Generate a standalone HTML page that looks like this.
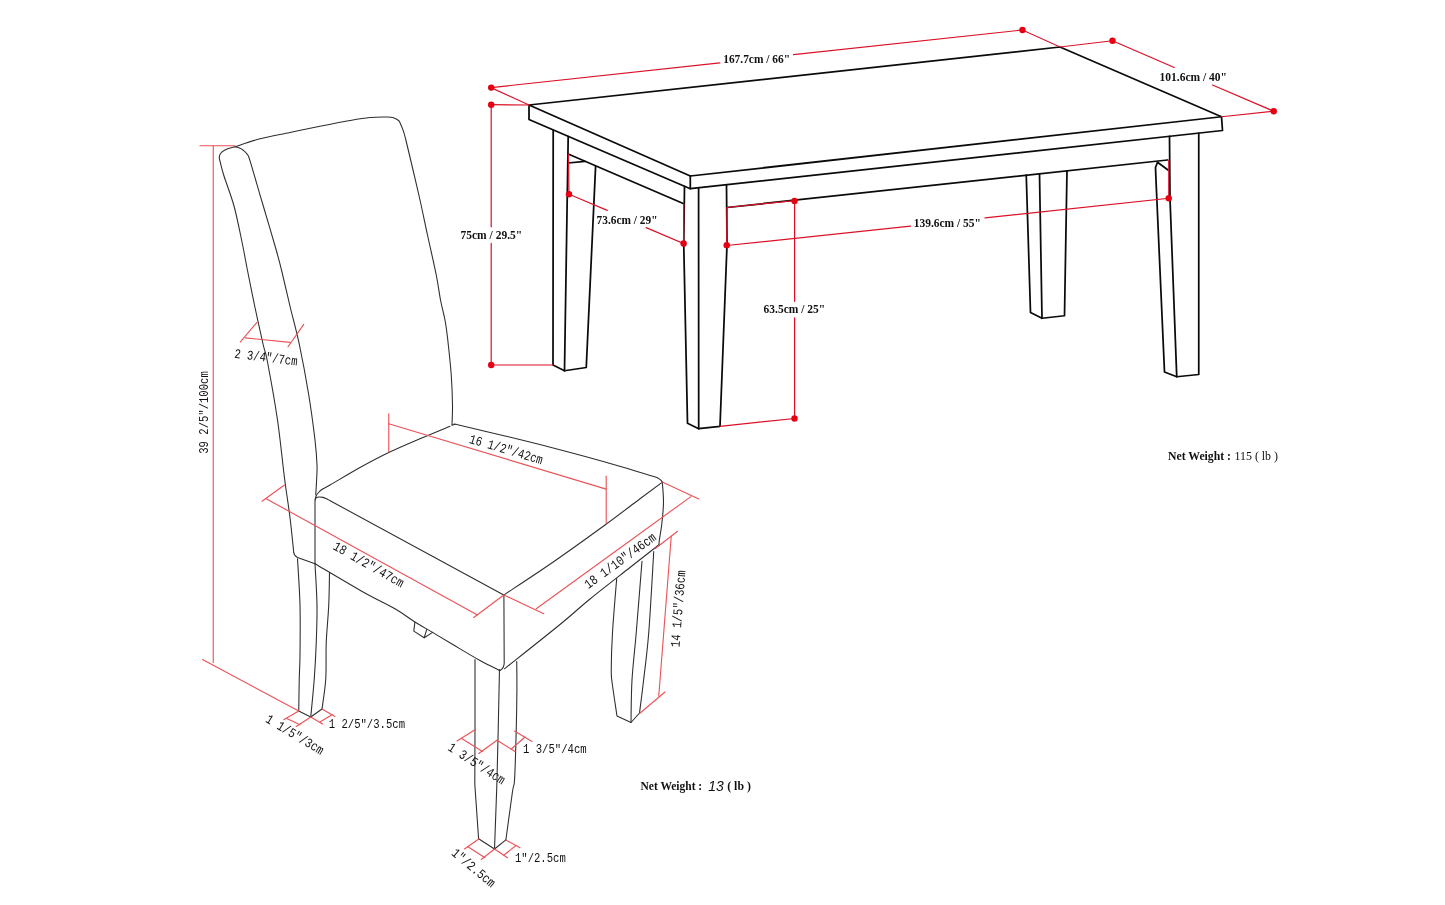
<!DOCTYPE html>
<html>
<head>
<meta charset="utf-8">
<title>Dining set dimensions</title>
<style>
  html, body { margin: 0; padding: 0; background: #ffffff; }
  body { width: 1445px; height: 905px; overflow: hidden; font-family: "Liberation Serif", serif; }
  svg { display: block; }
  .tb { fill: none; stroke: #0a0a0a; stroke-width: 1.75; stroke-linecap: round; stroke-linejoin: round; }
  .tr { fill: none; stroke: #dc1128; stroke-width: 1.2; stroke-linecap: round; }
  .td { fill: #e60012; stroke: none; }
  .cb { fill: none; stroke: #2e2e2e; stroke-width: 1.08; stroke-linecap: round; stroke-linejoin: round; }
  .cr { fill: none; stroke: #eb5257; stroke-width: 1.12; stroke-linecap: round; }
  text { filter: grayscale(1); }
  .tt { font-family: "Liberation Serif", serif; font-weight: bold; font-size: 12.6px; fill: #111; }
  .nw { font-family: "Liberation Serif", serif; font-size: 12.8px; fill: #111; }
  .ct { font-family: "Liberation Mono", monospace; font-size: 13.4px; fill: #111; }
</style>
</head>
<body>
<svg width="1445" height="905" viewBox="0 0 1445 905">
<rect x="0" y="0" width="1445" height="905" fill="#ffffff"/>

<!-- ================= TABLE : black outline ================= -->
<g class="tb" id="table">
  <!-- top surface -->
  <path d="M529,105 L1060,47 L1221.5,116.75 L690.3,176 Z"/>
  <!-- thickness -->
  <path d="M529,105 L529,119.5 L690.3,188.7 L1222.5,130.5 L1221.5,116.75"/>
  <path d="M690.3,176 L690.3,188.7"/>
  <!-- back-left leg -->
  <path d="M553.2,130 L553,365 L564.5,370.75 L586.25,367.5 L595.6,166.4"/>
  <path d="M568.2,136.5 L564.5,370.75"/>
  <path d="M568.2,163 L584.8,161.4"/>
  <!-- left apron -->
  <path d="M568.2,154 L683.8,203.8"/>
  <!-- front-left leg -->
  <path d="M684.5,186.4 L683.75,244.5 L687.5,423.3 L698.7,428.7 L720,426.3 L727,245 L726.5,185"/>
  <path d="M698.6,188.5 L698.7,428.7"/>
  <!-- front apron bottom edge -->
  <path d="M727,207.5 L1167.5,160"/>
  <!-- back-right leg -->
  <path d="M1026.25,175.2 L1030.5,312.5 L1042,318.25 L1064.5,315.75 L1067,170.8"/>
  <path d="M1039.5,173.8 L1042,318.25"/>
  <!-- front-right leg -->
  <path d="M1198.75,133.2 L1198.75,374.5 L1176.75,376.75 L1164.5,372 L1156,180 L1155.5,167.5 L1157.5,162.2 L1168,170"/>
  <path d="M1169.5,136.3 L1170,198.5 L1176.75,376.75"/>
</g>

<!-- ================= TABLE : red dimension lines ================= -->
<g class="tr" id="table-red">
  <path d="M491,87.6 L529,105"/>
  <path d="M491,104.7 L529,105"/>
  <path d="M491.2,104.7 L491.2,226.8"/>
  <path d="M491.2,243.3 L491.2,365 L553,365"/>
  <path d="M491,87.6 L719.8,62.9"/>
  <path d="M793.5,54.6 L1022.5,30 L1060,47 L1112.5,40.75"/>
  <path d="M1112.5,40.75 L1174.25,67.5"/>
  <path d="M1212.5,85 L1273.75,111.25 L1221.5,116.75"/>
  <path d="M568.4,154 L569,194.2 L607.2,210.4"/>
  <path d="M646.2,227.6 L683.6,243.5 L683.8,203.8"/>
  <path d="M726.7,245 L727,207.5 L794.6,200.6 L794.6,301.3"/>
  <path d="M794.6,317.8 L794.6,418.5 L720,426.3"/>
  <path d="M726.7,245.5 L910.5,226.2"/>
  <path d="M985,217.9 L1168.75,198.25 L1168.75,160"/>
</g>
<g class="td" id="table-dots">
  <circle cx="491.2" cy="87.6" r="3.2"/>
  <circle cx="491.2" cy="104.7" r="3.2"/>
  <circle cx="491.2" cy="365" r="3.2"/>
  <circle cx="569" cy="194.2" r="3.2"/>
  <circle cx="683.6" cy="243.5" r="3.2"/>
  <circle cx="726.7" cy="245.3" r="3.2"/>
  <circle cx="794.5" cy="201" r="3.2"/>
  <circle cx="794.5" cy="418.5" r="3.2"/>
  <circle cx="1022.5" cy="30" r="3.2"/>
  <circle cx="1112.5" cy="40.75" r="3.2"/>
  <circle cx="1273.75" cy="111.25" r="3.2"/>
  <circle cx="1168.75" cy="198.25" r="3.2"/>
</g>

<!-- ================= TABLE : labels ================= -->
<g class="tt" id="table-text" lengthAdjust="spacingAndGlyphs">
  <text x="723.2" y="63.2" textLength="66.9" lengthAdjust="spacingAndGlyphs">167.7cm / 66"</text>
  <text x="1159.5" y="80.5" textLength="67.5" lengthAdjust="spacingAndGlyphs">101.6cm / 40"</text>
  <text x="460.5" y="238.9" textLength="61.7" lengthAdjust="spacingAndGlyphs">75cm / 29.5"</text>
  <text x="596.5" y="223.5" textLength="61" lengthAdjust="spacingAndGlyphs">73.6cm / 29"</text>
  <text x="763.6" y="313.4" textLength="61.5" lengthAdjust="spacingAndGlyphs">63.5cm / 25"</text>
  <text x="913.7" y="226.6" textLength="67.3" lengthAdjust="spacingAndGlyphs">139.6cm / 55"</text>
</g>
<text class="nw" x="1168" y="459.8" textLength="63" lengthAdjust="spacingAndGlyphs" font-weight="bold">Net Weight :</text>
<text class="nw" x="1234.5" y="459.8" textLength="43.5" lengthAdjust="spacingAndGlyphs">115 ( lb )</text>

<g class="cb" id="chair">
  <path d="M315,563.75 L297.5,557.5 Q294.3,556 293.75,552.5"/>
  <path d="M293.75,552.50 C293.12,546.67 291.54,529.92 290.00,517.50 C288.46,505.08 286.58,494.25 284.50,478.00 C282.42,461.75 280.33,439.33 277.50,420.00 C274.67,400.67 269.88,374.54 267.50,362.00 C265.12,349.46 265.30,353.92 263.20,344.75 C261.10,335.58 257.53,319.46 254.90,307.00 C252.27,294.54 249.58,281.00 247.40,270.00 C245.22,259.00 244.03,251.67 241.80,241.00 C239.57,230.33 236.97,216.83 234.00,206.00 C231.03,195.17 226.30,183.33 224.00,176.00 C221.70,168.67 220.98,165.08 220.20,162.00 C219.42,158.92 219.25,158.92 219.30,157.50 C219.35,156.08 219.63,154.72 220.50,153.50 C221.37,152.28 223.00,151.08 224.50,150.20 C226.00,149.32 227.75,148.77 229.50,148.20 C231.25,147.62 234.08,146.99 235.00,146.75"/>
  <path d="M235.00,146.75 C235.75,146.94 238.17,147.36 239.50,147.90 C240.83,148.44 241.73,148.97 243.00,150.00 C244.27,151.03 245.95,152.37 247.10,154.10 C248.25,155.83 247.82,153.82 249.90,160.40 C251.98,166.98 257.42,186.17 259.60,193.60 C261.78,201.03 260.23,195.60 263.00,205.00 C265.77,214.40 273.12,239.17 276.20,250.00 C279.28,260.83 279.17,260.50 281.50,270.00 C283.83,279.50 287.22,294.54 290.20,307.00 C293.18,319.46 296.31,330.08 299.40,344.75 C302.49,359.42 306.15,379.12 308.75,395.00 C311.35,410.88 313.62,428.33 315.00,440.00 C316.38,451.67 316.73,458.33 317.00,465.00 C317.27,471.67 316.81,475.00 316.60,480.00 C316.39,485.00 315.89,492.50 315.75,495.00"/>
  <path d="M235.00,146.75 C239.17,145.42 250.83,141.12 260.00,138.75 C269.17,136.38 280.00,134.58 290.00,132.50 C300.00,130.42 310.00,128.25 320.00,126.25 C330.00,124.25 341.67,121.96 350.00,120.50 C358.33,119.04 363.75,118.08 370.00,117.50 C376.25,116.92 383.50,116.92 387.50,117.00 C391.50,117.08 392.17,117.42 394.00,118.00 C395.83,118.58 397.48,119.67 398.50,120.50 C399.52,121.33 399.27,121.20 400.10,123.00 C400.93,124.80 402.52,128.38 403.50,131.30 C404.48,134.22 404.71,135.30 406.00,140.50 C407.29,145.70 408.92,152.58 411.25,162.50 C413.58,172.42 417.29,187.92 420.00,200.00 C422.71,212.08 424.79,222.50 427.50,235.00 C430.21,247.50 434.08,264.17 436.25,275.00 C438.42,285.83 439.04,292.50 440.50,300.00 C441.96,307.50 443.83,313.75 445.00,320.00 C446.17,326.25 446.46,328.33 447.50,337.50 C448.54,346.67 450.42,363.75 451.25,375.00 C452.08,386.25 452.38,396.67 452.50,405.00 C452.62,413.33 452.08,421.67 452.00,425.00"/>
  <path d="M452.00,425.00 C452.50,424.92 453.88,424.50 455.00,424.50 C456.12,424.50 450.42,423.08 458.75,425.00 C467.08,426.92 489.58,432.25 505.00,436.00 C520.42,439.75 534.58,443.17 551.25,447.50 C567.92,451.83 588.21,457.25 605.00,462.00 C621.79,466.75 643.25,473.33 652.00,476.00 C660.75,478.67 656.07,477.37 657.50,478.00 C658.93,478.63 659.80,479.13 660.60,479.80 C661.40,480.47 662.02,481.63 662.30,482.00"/>
  <path d="M450.00,426.25 C445.00,428.32 430.21,434.32 420.00,438.70 C409.79,443.07 398.75,447.70 388.75,452.50 C378.75,457.30 369.79,462.08 360.00,467.50 C350.21,472.92 336.17,481.45 330.00,485.00 C323.83,488.55 324.92,487.55 323.00,488.80 C321.08,490.05 319.68,491.22 318.50,492.50 C317.32,493.78 316.48,495.08 315.90,496.50 C315.32,497.92 315.15,500.25 315.00,501.00 L315,563.75"/>
  <path d="M315.20,499.80 C315.37,499.47 315.57,498.27 316.20,497.80 C316.83,497.33 317.87,497.07 319.00,497.00 C320.13,496.93 321.75,497.10 323.00,497.40 C324.25,497.70 325.38,498.28 326.50,498.80 C327.62,499.32 329.17,500.22 329.70,500.50 L503.75,595"/>
  <path d="M503.75,595.00 C511.88,589.58 535.62,574.17 552.50,562.50 C569.38,550.83 590.42,535.62 605.00,525.00 C619.58,514.38 630.60,505.77 640.00,498.75 C649.40,491.73 657.83,485.54 661.40,482.90"/>
  <path d="M315.00,563.75 C323.17,568.54 350.67,584.99 364.00,592.50 C377.33,600.01 386.52,603.88 395.00,608.80 C403.48,613.72 408.63,618.07 414.90,622.00 C421.17,625.93 426.35,628.68 432.60,632.40 C438.85,636.12 444.50,639.62 452.40,644.30 C460.30,648.98 472.07,656.13 480.00,660.50 C487.93,664.87 496.67,668.83 500.00,670.50"/>
  <path d="M503.9,595 L504.2,663 Q504.2,668 500,670.5"/>
  <path d="M662.30,482.00 C662.50,485.40 663.58,495.40 663.50,502.40 C663.42,509.40 662.48,517.78 661.80,524.00 C661.12,530.22 659.87,536.23 659.40,539.70 C658.93,543.17 659.07,543.95 659.00,544.80"/>
  <path d="M659.00,544.80 C654.17,548.58 641.50,558.47 630.00,567.50 C618.50,576.53 601.67,589.50 590.00,599.00 C578.33,608.50 574.25,612.87 560.00,624.50 C545.75,636.13 513.75,661.42 504.50,668.80"/>
  <path d="M414.9,622 L413.8,631.1 L424.2,637.7 L432.6,632.4"/>
  <path d="M424.2,637.7 L426.8,629.3"/>
  <path d="M297.50,558.75 C297.92,566.46 299.58,588.96 300.00,605.00 C300.42,621.04 300.12,642.67 300.00,655.00 C299.88,667.33 299.46,669.67 299.25,679.00 C299.04,688.33 298.83,705.67 298.75,711.00 L310.75,717 L322,709"/>
  <path d="M322.00,709.00 C322.62,704.00 325.04,690.08 325.75,679.00 C326.46,667.92 325.75,654.83 326.25,642.50 C326.75,630.17 328.21,616.67 328.75,605.00 C329.29,593.33 329.38,577.92 329.50,572.50"/>
  <path d="M315.00,563.75 C315.33,570.62 316.79,591.88 317.00,605.00 C317.21,618.12 316.71,630.17 316.25,642.50 C315.79,654.83 315.17,666.58 314.25,679.00 C313.33,691.42 311.33,710.67 310.75,717.00"/>
  <path d="M475.00,659.50 L475.00,729.00 L474.80,784.00 L478.60,838.80 L494.50,849.00 L505.90,839.80"/>
  <path d="M505.90,839.80 C507.00,831.75 511.05,801.63 512.50,791.50 C513.95,781.37 513.98,789.42 514.60,779.00 C515.23,768.58 515.87,743.83 516.25,729.00 C516.63,714.17 516.82,701.25 516.90,690.00 C516.98,678.75 516.77,666.25 516.75,661.50"/>
  <path d="M499.25,670.50 C499.25,672.25 499.62,662.92 499.25,681.00 C498.88,699.08 497.79,751.00 497.00,779.00 C496.21,807.00 494.92,837.33 494.50,849.00"/>
  <path d="M616.70,578.50 C616.00,587.50 613.41,617.25 612.50,632.50 C611.59,647.75 611.28,661.42 611.25,670.00 C611.22,678.58 611.34,676.33 612.30,684.00 C613.26,691.67 616.22,710.67 617.00,716.00 L631,722.5 L639.5,713"/>
  <path d="M639.50,713.00 C640.17,707.67 641.96,694.42 643.50,681.00 C645.04,667.58 647.04,654.08 648.75,632.50 C650.46,610.92 652.92,565.00 653.75,551.50"/>
  <path d="M642.00,561.25 C641.04,573.12 637.92,612.71 636.25,632.50 C634.58,652.29 632.88,665.00 632.00,680.00 C631.12,695.00 631.17,715.42 631.00,722.50"/>
</g>
<g class="cr" id="chair-red">
  <path d="M200.00,145.75 L235.00,145.75"/>
  <path d="M213.25,145.75 L213.25,662.50"/>
  <path d="M202.50,659.50 L298.75,711.00"/>
  <path d="M257.00,322.30 L240.40,341.80"/>
  <path d="M303.75,324.40 L288.00,346.80"/>
  <path d="M245.40,337.90 L290.20,342.40"/>
  <path d="M388.75,413.75 L388.75,452.00"/>
  <path d="M388.75,423.75 L606.20,489.10"/>
  <path d="M606.20,476.20 L606.20,523.10"/>
  <path d="M284.50,485.00 L262.00,501.25"/>
  <path d="M266.25,498.75 L477.50,615.00"/>
  <path d="M503.75,595.00 L473.75,617.50"/>
  <path d="M503.75,595.00 L543.75,613.75"/>
  <path d="M536.25,608.75 L690.90,496.60"/>
  <path d="M662.30,482.00 L698.80,499.00"/>
  <path d="M677.50,531.25 L655.00,548.75"/>
  <path d="M671.25,536.25 L658.75,696.25"/>
  <path d="M665.00,692.00 L639.25,713.75"/>
  <path d="M298.75,711.00 L283.75,719.75"/>
  <path d="M310.75,717.00 L296.25,726.50"/>
  <path d="M286.25,718.25 L300.00,724.75"/>
  <path d="M310.75,717.00 L322.50,724.00"/>
  <path d="M322.00,709.00 L335.00,716.50"/>
  <path d="M320.00,722.00 L332.00,714.75"/>
  <path d="M475.00,729.75 L457.00,741.00"/>
  <path d="M497.00,740.25 L478.75,753.50"/>
  <path d="M461.25,738.25 L482.50,751.50"/>
  <path d="M497.00,740.25 L515.00,751.50"/>
  <path d="M514.50,731.00 L532.00,741.50"/>
  <path d="M511.25,749.00 L525.00,737.00"/>
  <path d="M478.75,839.00 L464.50,849.00"/>
  <path d="M494.50,849.00 L481.25,859.50"/>
  <path d="M467.50,846.50 L485.00,857.75"/>
  <path d="M494.50,849.00 L507.50,857.75"/>
  <path d="M506.25,840.25 L520.00,847.75"/>
  <path d="M503.75,855.25 L516.25,845.25"/>
</g>
<g class="ct" id="chair-text">
  <text transform="translate(203.75,412.50) rotate(-90.0)" x="-41.25" y="4.42" textLength="82.50" lengthAdjust="spacingAndGlyphs">39 2/5&quot;/100cm</text>
  <text transform="translate(266.00,357.20) rotate(7.0)" x="-31.75" y="4.42" textLength="63.50" lengthAdjust="spacingAndGlyphs">2 3/4&quot;/7cm</text>
  <text transform="translate(506.25,449.25) rotate(16.6)" x="-38.00" y="4.42" textLength="76.00" lengthAdjust="spacingAndGlyphs">16 1/2&quot;/42cm</text>
  <text transform="translate(368.75,564.40) rotate(29.5)" x="-39.50" y="4.42" textLength="79.00" lengthAdjust="spacingAndGlyphs">18 1/2&quot;/47cm</text>
  <text transform="translate(620.00,560.60) rotate(-36.0)" x="-42.50" y="4.42" textLength="85.00" lengthAdjust="spacingAndGlyphs">18 1/10&quot;/46cm</text>
  <text transform="translate(678.00,608.75) rotate(-85.5)" x="-38.50" y="4.42" textLength="77.00" lengthAdjust="spacingAndGlyphs">14 1/5&quot;/36cm</text>
  <text transform="translate(295.00,734.50) rotate(31.0)" x="-32.50" y="4.42" textLength="65.00" lengthAdjust="spacingAndGlyphs">1 1/5&quot;/3cm</text>
  <text transform="translate(476.75,763.50) rotate(33.0)" x="-32.50" y="4.42" textLength="65.00" lengthAdjust="spacingAndGlyphs">1 3/5&quot;/4cm</text>
  <text transform="translate(473.75,867.75) rotate(40.0)" x="-26.25" y="4.42" textLength="52.50" lengthAdjust="spacingAndGlyphs">1&quot;/2.5cm</text>
  <text x="328.75" y="728.25" textLength="76.25" lengthAdjust="spacingAndGlyphs">1 2/5&quot;/3.5cm</text>
  <text x="523.00" y="752.75" textLength="63.75" lengthAdjust="spacingAndGlyphs">1 3/5&quot;/4cm</text>
  <text x="515.00" y="862.25" textLength="50.75" lengthAdjust="spacingAndGlyphs">1&quot;/2.5cm</text>
</g>
<text class="nw" x="640.5" y="789.9" textLength="61.7" lengthAdjust="spacingAndGlyphs" font-weight="bold">Net Weight :</text>
<text x="708.3" y="790.5" font-family="'Liberation Sans', sans-serif" font-style="italic" font-size="14.3px" fill="#111" textLength="15.5" lengthAdjust="spacingAndGlyphs">13</text>
<text class="nw" x="727.2" y="789.9" textLength="23.7" lengthAdjust="spacingAndGlyphs" font-weight="bold">( lb )</text>
</svg>
</body>
</html>
